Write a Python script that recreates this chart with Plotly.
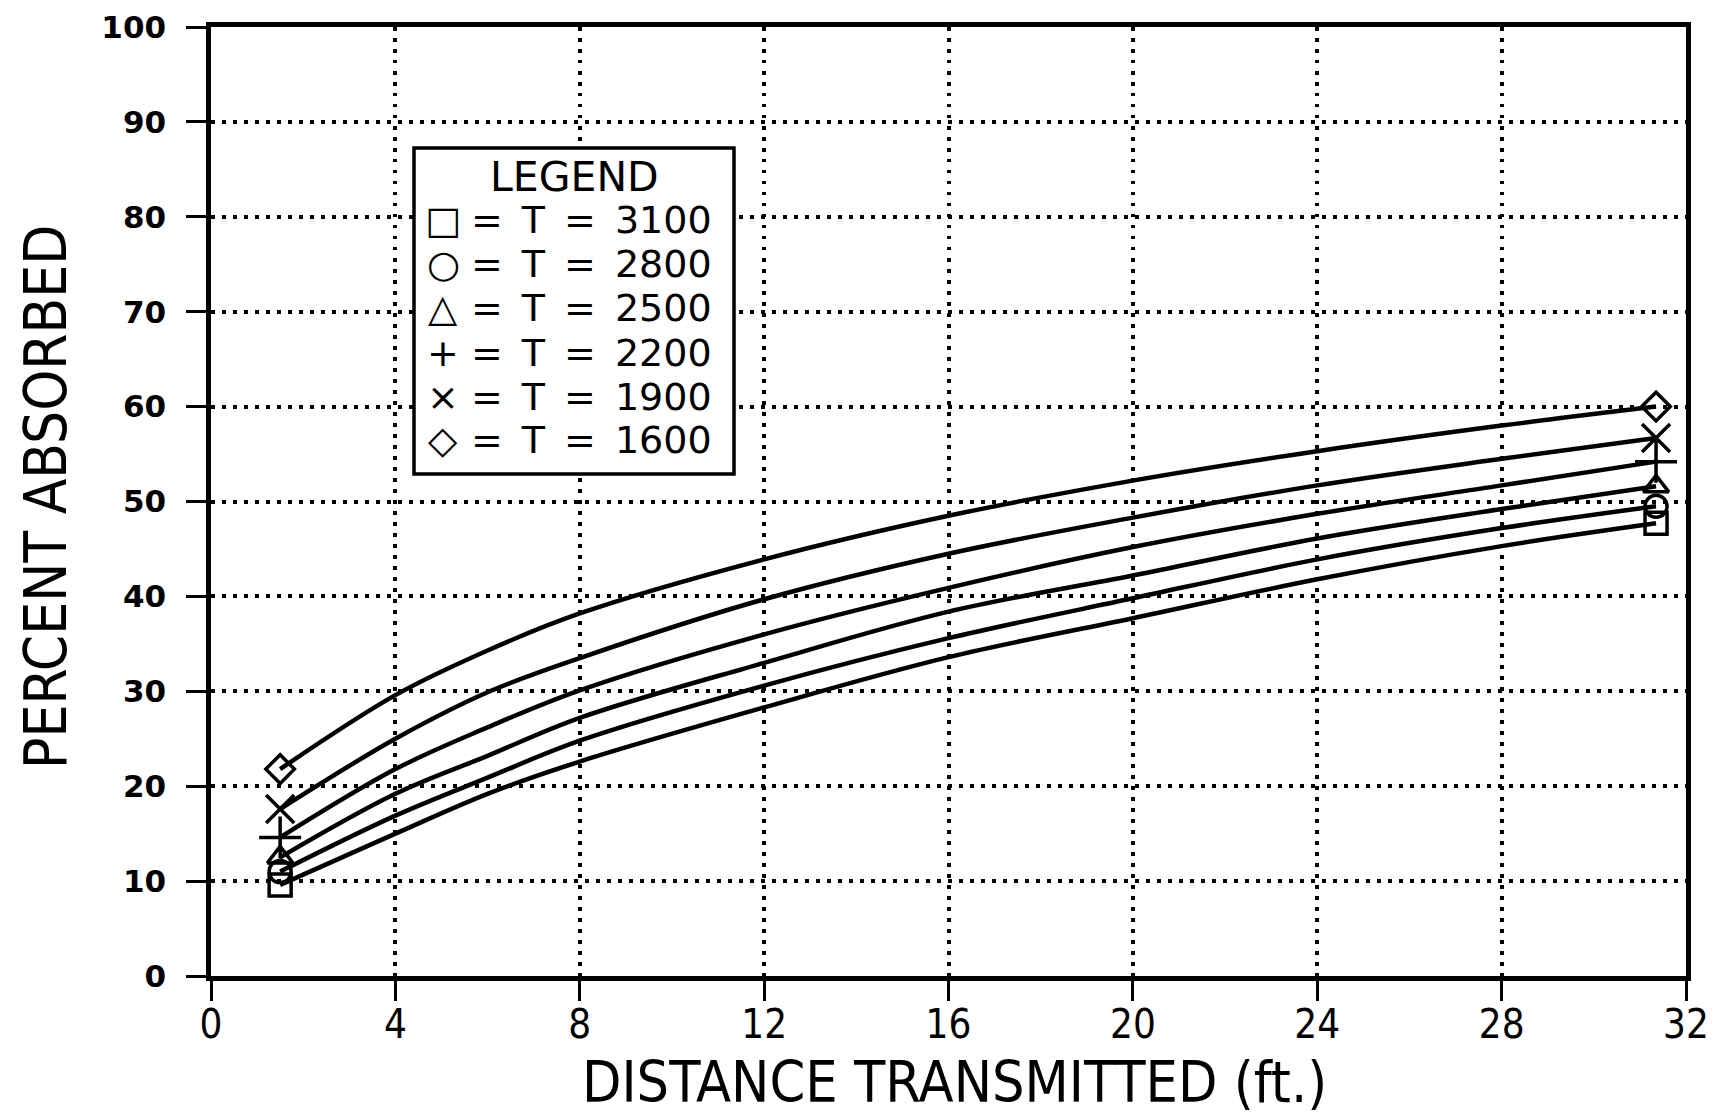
import plotly.graph_objects as go

# ---- data ----
distance_ft = [1.5, 4, 6, 8, 12, 16, 20, 24, 28, 31.35]
temperatures = ["3100", "2800", "2500", "2200", "1900", "1600"]
absorbed_3100 = [9.6, 15.0, 19.2, 22.6, 28.3, 33.6, 37.7, 41.8, 45.3, 47.7]
absorbed_2800 = [11.0, 16.9, 20.9, 24.8, 30.6, 35.6, 39.8, 43.9, 47.2, 49.5]
absorbed_2500 = [12.5, 19.2, 23.2, 27.2, 33.0, 38.4, 42.2, 46.1, 49.2, 51.6]
absorbed_2200 = [14.6, 21.8, 26.2, 30.1, 36.0, 40.9, 45.2, 48.7, 51.7, 54.2]
absorbed_1900 = [17.6, 25.0, 29.9, 33.5, 39.7, 44.5, 48.3, 51.7, 54.5, 56.7]
absorbed_1600 = [21.8, 29.6, 34.3, 38.2, 43.9, 48.5, 52.2, 55.3, 58.0, 60.0]
x_ticks = [0, 4, 8, 12, 16, 20, 24, 28, 32]
y_ticks = [0, 10, 20, 30, 40, 50, 60, 70, 80, 90, 100]
legend_glyphs = ["\u25a1", "\u25cb", "\u25b3", "+", "\u00d7", "\u25c7"]

series = [absorbed_3100, absorbed_2800, absorbed_2500, absorbed_2200, absorbed_1900, absorbed_1600]
symbols = ["square-open", "circle-open", "triangle-up-open", "cross-thin-open", "x-thin-open", "diamond-open"]
msizes = [22, 22, 22, 30, 28, 22]

# the page body has an 8px margin; figure sized so it fits the window exactly
OFF = 8
W, H = 1720 - OFF, 1115 - OFF
L, T = 211 - OFF, 27 - OFF
R = W - (1686 - OFF)
B = H - (976 - OFF)
PW, PH = W - L - R, H - T - B

def px(xs):  # screen px -> paper x
    return (xs - OFF - L) / PW

def py(ys):  # screen px -> paper y
    return (H - B - (ys - OFF)) / PH

FONT = "DejaVu Sans"
COND = "Liberation Sans Narrow, DejaVu Sans Condensed, Roboto Condensed, Arial Narrow, DejaVu Sans, sans-serif"

fig = go.Figure()

for vals in series:
    fig.add_trace(go.Scatter(
        x=distance_ft, y=vals, mode="lines",
        line=dict(color="black", width=4.5, shape="spline", smoothing=1.0),
        showlegend=False, hoverinfo="skip"))

for temp, vals, sym, ms in zip(temperatures, series, symbols, msizes):
    fig.add_trace(go.Scatter(
        x=[distance_ft[0], distance_ft[-1]], y=[vals[0], vals[-1]],
        mode="markers", name=f"T = {temp}", showlegend=False,
        marker=dict(symbol=sym, size=ms, color="black",
                    line=dict(color="black", width=3.5)),
        cliponaxis=False))

EN = "\u2002"
annotations = [
    dict(text="DISTANCE TRANSMITTED (ft.)", xref="paper", yref="paper",
         x=px(954), y=py(1082), xanchor="center", yanchor="middle", showarrow=False,
         font=dict(family=COND, size=57, color="black")),
    dict(text="PERCENT ABSORBED", xref="paper", yref="paper",
         x=px(46), y=py(497), textangle=-90,
         xanchor="center", yanchor="middle", showarrow=False,
         font=dict(family=COND, size=58, color="black")),
    dict(text="LEGEND", xref="paper", yref="paper",
         x=px(574), y=py(177), xanchor="center", yanchor="middle", showarrow=False,
         font=dict(family=FONT, size=41, color="black")),
]
row_y = [220, 264, 308, 353, 397, 440]
for glyph, temp, ry in zip(legend_glyphs, temperatures, row_y):
    annotations.append(dict(
        text=glyph, xref="paper", yref="paper", x=px(443), y=py(ry),
        xanchor="center", yanchor="middle", showarrow=False,
        font=dict(family=FONT, size=38, color="black")))
    annotations.append(dict(
        text=f"={EN}T{EN}={EN}{temp}", xref="paper", yref="paper",
        x=px(469), y=py(ry), xanchor="left", yanchor="middle", showarrow=False,
        font=dict(family=FONT, size=38, color="black")))

fig.update_layout(
    width=W, height=H,
    margin=dict(l=L, r=R, t=T, b=B, autoexpand=False),
    paper_bgcolor="white", plot_bgcolor="white",
    font=dict(color="black"),
    showlegend=False,
    xaxis=dict(
        range=[0, 32], tickmode="array", tickvals=x_ticks,
        ticktext=[str(v) for v in x_ticks], automargin=False,
        showline=True, linewidth=4.5, linecolor="black", mirror=True,
        ticks="outside", ticklen=20, tickwidth=3, tickcolor="black",
        showgrid=True, gridcolor="black", gridwidth=3.5, griddash="3.5px,7.5px",
        zeroline=False,
        tickfont=dict(family=COND, size=40, color="black"),
        ticklabelstandoff=-11,
    ),
    yaxis=dict(
        range=[0, 100], tickmode="array", tickvals=y_ticks,
        ticktext=[str(v) for v in y_ticks], automargin=False,
        showline=True, linewidth=4.5, linecolor="black", mirror=True,
        ticks="outside", ticklen=20, tickwidth=3, tickcolor="black",
        showgrid=True, gridcolor="black", gridwidth=3.5, griddash="3.5px,7.5px",
        zeroline=False,
        tickfont=dict(family=FONT, size=31, color="black", weight="bold"),
        ticklabelstandoff=14,
    ),
    shapes=[dict(type="rect", xref="paper", yref="paper",
                 x0=px(414), x1=px(734), y0=py(474), y1=py(148),
                 fillcolor="white", line=dict(color="black", width=3.5),
                 layer="above")],
    annotations=annotations,
)

fig.write_html("out.html")
